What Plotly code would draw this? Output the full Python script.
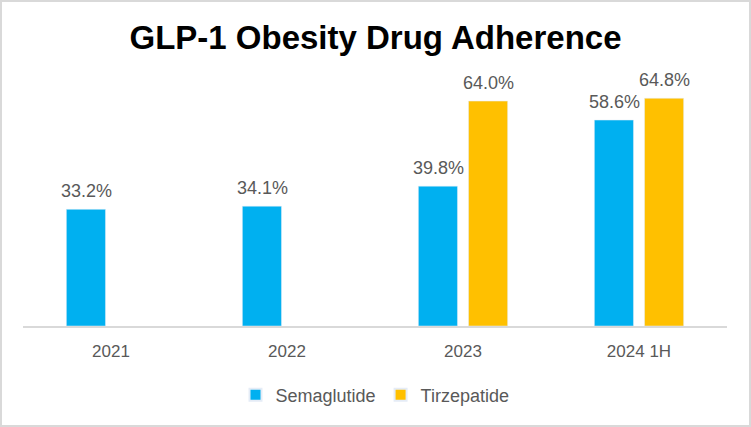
import plotly.graph_objects as go

categories = ["2021", "2022", "2023", "2024 1H"]
semaglutide = [33.2, 34.1, 39.8, 58.6]
tirzepatide = [None, None, 64.0, 64.8]

W, H = 751, 427
ml, mr, mt, mb = 23, 24, 80, 101
pw, ph = W - ml - mr, H - mt - mb

fig = go.Figure()
fig.add_trace(go.Bar(name="Semaglutide", x=categories, y=semaglutide,
                     marker_color="#00B0F0"))
fig.add_trace(go.Bar(name="Tirzepatide", x=categories, y=tirzepatide,
                     marker_color="#FFC000"))

# data labels above bars (x given as category index)
for vals, shift in ((semaglutide, -25), (tirzepatide, 25)):
    for i, v in enumerate(vals):
        if v is None:
            continue
        fig.add_annotation(x=i, y=v, text=f"{v:.1f}%", showarrow=False,
                           xshift=shift, yanchor="bottom", yshift=6,
                           font=dict(size=18, color="#595959", family="Liberation Sans"))

fig.update_layout(
    width=W, height=H,
    margin=dict(l=ml, r=mr, t=mt, b=mb),
    paper_bgcolor="white", plot_bgcolor="white",
    barmode="group", bargap=0.43, bargroupgap=0.22,
    title=dict(text="<b>GLP-1 Obesity Drug Adherence</b>", x=0.5, xanchor="center",
               y=1 - 37 / H, yanchor="middle",
               font=dict(size=33, color="black", family="Liberation Sans")),
    font=dict(family="Liberation Sans", color="#595959"),
    xaxis=dict(type="category", categoryarray=categories, categoryorder="array",
               range=[-0.5, len(categories) - 0.5],
               showline=True, linecolor="#D9D9D9", linewidth=2, showgrid=False,
               tickfont=dict(size=17, color="#595959"), ticks="", ticklabelstandoff=9),
    yaxis=dict(range=[0, 70], visible=False, showgrid=False),
    legend=dict(orientation="h", x=0.5, xanchor="center", y=-(395 - 326) / ph,
                yanchor="middle", font=dict(size=18, color="#595959"),
                itemsizing="constant", traceorder="normal", itemwidth=30),
    showlegend=True,
)
fig.add_shape(type="rect", xref="paper", yref="paper",
              x0=-(ml - 1) / pw, x1=1 + (mr - 1) / pw,
              y0=-(mb - 1) / ph, y1=1 + (mt - 1) / ph,
              line=dict(color="#D9D9D9", width=2), fillcolor="rgba(0,0,0,0)", layer="below")

fig.write_html("out.html")
